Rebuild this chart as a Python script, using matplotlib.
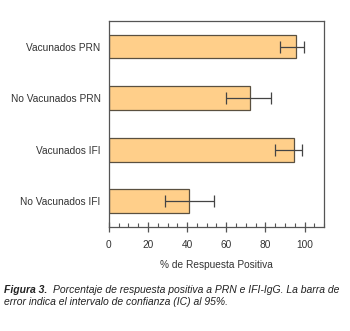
import matplotlib
matplotlib.use('Agg')
import matplotlib.pyplot as plt
from matplotlib.ticker import MultipleLocator

categories = ['Vacunados PRN', 'No Vacunados PRN', 'Vacunados IFI', 'No Vacunados IFI']
values = [95.5, 72.3, 94.5, 40.9]
ci_low = [87.3, 59.8, 85.0, 28.5]
ci_high = [99.5, 82.7, 98.5, 53.5]
xticks = [0, 20, 40, 60, 80, 100]

plt.rcParams['font.family'] = ['Liberation Sans', 'DejaVu Sans']
axis_col = '#555555'

fig = plt.figure(figsize=(3.5, 3.31), dpi=100)
ax = fig.add_axes([0.311, 0.314, 0.615, 0.623])

ypos = list(range(len(categories)))
err = [[v - lo for v, lo in zip(values, ci_low)], [hi - v for v, hi in zip(values, ci_high)]]
ax.barh(ypos, values, height=0.46, color='#FFCF8A', edgecolor='#5a5040', linewidth=0.9,
        xerr=err, error_kw=dict(ecolor='#444444', elinewidth=0.9, capsize=4, capthick=0.9))

ax.set_ylim(3.5, -0.5)
ax.set_xlim(0, 110)
ax.set_yticks(ypos)
ax.set_yticklabels(categories, fontsize=7.3, color='#333333')
ax.tick_params(axis='y', length=0, pad=6)
ax.set_xticks(xticks)
ax.xaxis.set_minor_locator(MultipleLocator(5))
ax.tick_params(axis='x', which='major', direction='inout', length=7, width=0.9,
               color=axis_col, labelsize=7.3, labelcolor='#333333', pad=6)
ax.tick_params(axis='x', which='minor', direction='in', length=3, width=0.8, color=axis_col)
for s in ax.spines.values():
    s.set_color(axis_col)
    s.set_linewidth(0.9)
ax.set_xlabel('% de Respuesta Positiva', fontsize=7.3, color='#333333', labelpad=7)

# caption: bold "Figura 3." followed by the italic text
cap = 7.5
t1 = fig.text(0.012, 0.115, 'Figura 3.', fontsize=cap, style='italic', weight='bold', color='#222222')
fig.canvas.draw()
bb = t1.get_window_extent()
x2 = (bb.x1 + 6) / fig.bbox.width
fig.text(x2, 0.115, 'Porcentaje de respuesta positiva a PRN e IFI-IgG. La barra de',
         fontsize=cap, style='italic', color='#222222')
fig.text(0.012, 0.08, 'error indica el intervalo de confianza (IC) al 95%.',
         fontsize=cap, style='italic', color='#222222')

fig.savefig('out.png', dpi=100)
